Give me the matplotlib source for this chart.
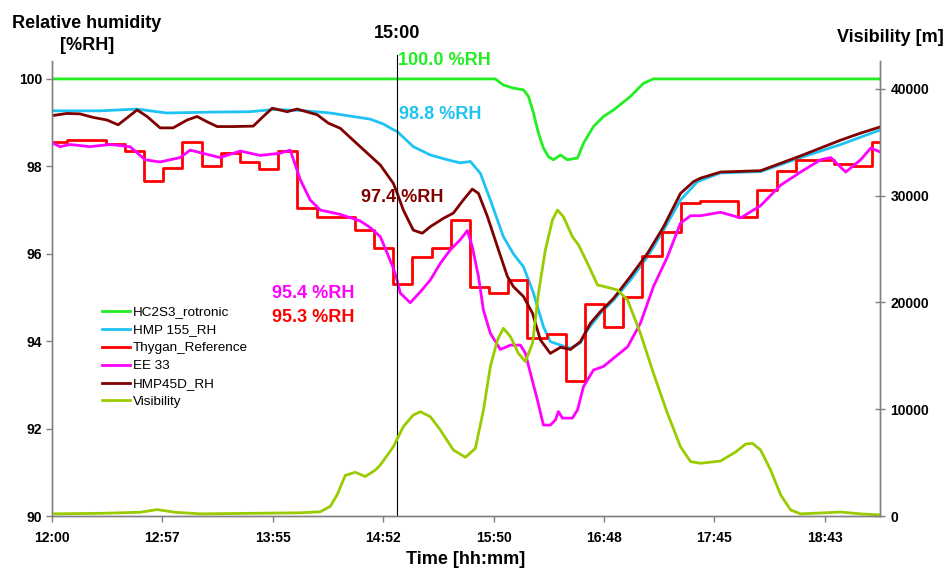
import numpy as np
import matplotlib
matplotlib.use('Agg')
import matplotlib.pyplot as plt

plt.rcParams['font.family'] = ['Liberation Sans', 'DejaVu Sans']

# Time axis: minutes after 12:00
t_end = 432
tick_pos = [0, 57.6, 115.2, 172.8, 230.4, 288, 345.6, 403.2]
tick_labels = ['12:00', '12:57', '13:55', '14:52', '15:50', '16:48', '17:45', '18:43']

# HC2S3_rotronic
t_hc2s3 = [0, 129.5, 231.3, 235.5, 240.7, 246, 248.6, 251.2, 253.8, 256.4, 259, 261.6,
           265.3, 268.9, 274.2, 277.3, 282.5, 287.7, 293, 301.8, 308.6, 313.8, 432]
rh_hc2s3 = [100.0, 100.0, 100.0, 99.86, 99.79, 99.75, 99.6, 99.22, 98.76, 98.42, 98.22, 98.15,
            98.26, 98.15, 98.19, 98.53, 98.91, 99.14, 99.29, 99.6, 99.9, 100.0, 100.0]

# HMP 155_RH
t_hmp155 = [0, 25, 44.4, 60, 82.5, 103.4, 115.4, 129.5, 145.2, 155.6, 166, 172.8, 178, 180,
            188.5, 197.4, 206.3, 213, 218.3, 223.5, 228.7, 235.5, 240.7, 246, 251.2, 256.4,
            260, 265.3, 270.5, 275.7, 279.4, 286.2, 293, 301.8, 310.7, 319.1, 327.9, 336.8,
            348.8, 369.7, 390.6, 411.5, 432]
rh_hmp155 = [99.27, 99.27, 99.31, 99.22, 99.24, 99.25, 99.3, 99.28, 99.22, 99.15, 99.08, 98.97,
             98.84, 98.8, 98.45, 98.26, 98.15, 98.08, 98.11, 97.84, 97.23, 96.39, 96.0, 95.7,
             95.1, 94.33, 93.99, 93.91, 93.84, 93.96, 94.26, 94.64, 94.94, 95.4, 95.93, 96.54,
             97.23, 97.65, 97.85, 97.88, 98.2, 98.5, 98.83]

# Thygan_Reference (10 min steps)
t_thygan = [0, 8, 18, 28, 38, 48, 58, 68, 78, 88, 98, 108, 118, 128, 138, 148, 158, 168,
            178, 188, 198, 208, 218, 228, 238, 248, 258, 268, 278, 288, 298, 308, 318, 328,
            338, 348, 358, 368, 378, 388, 398, 408, 418, 428, 432]
rh_thygan = [98.55, 98.6, 98.6, 98.5, 98.35, 97.67, 97.96, 98.55, 98.0, 98.3, 98.1, 97.95,
             98.35, 97.05, 96.85, 96.85, 96.55, 96.13, 95.3, 95.93, 96.13, 96.77, 95.23,
             95.11, 95.39, 94.07, 94.16, 93.09, 94.84, 94.33, 95.0, 95.95, 96.49, 97.17,
             97.2, 97.2, 96.85, 97.45, 97.9, 98.15, 98.15, 98.05, 98.0, 98.56, 98.56]

# EE 33
t_ee33 = [0, 4.2, 9.4, 19.8, 30.3, 40.7, 48.6, 56.4, 66.8, 72.1, 87.7, 98.2, 108.6, 119,
          124.3, 129.5, 134.7, 140, 150.4, 160.8, 166, 171.3, 174.9, 178.1, 180, 181.7,
          186.9, 192.2, 197.4, 202.6, 207.8, 213, 216.7, 219.3, 222.5, 225.1, 228.7, 233.9,
          239.2, 244.4, 247, 249.6, 253.3, 256.4, 260, 262.7, 264.2, 266.3, 271.5, 274.2,
          277.3, 282.5, 287.7, 293, 300.3, 307, 313.8, 321.1, 327.9, 333.2, 338.4, 348.8,
          359.3, 369.7, 380.2, 390.6, 401, 406.3, 414.1, 421.9, 427.2, 432]
rh_ee33 = [98.54, 98.45, 98.5, 98.45, 98.5, 98.45, 98.15, 98.1, 98.2, 98.37, 98.2, 98.35,
           98.25, 98.3, 98.37, 97.7, 97.23, 97.0, 96.9, 96.75, 96.6, 96.39, 96.01, 95.67,
           95.4, 95.1, 94.88, 95.13, 95.4, 95.78, 96.09, 96.32, 96.53, 96.16, 95.48, 94.71,
           94.18, 93.81, 93.91, 93.91, 93.72, 93.27, 92.65, 92.08, 92.08, 92.2, 92.39, 92.24,
           92.24, 92.43, 92.96, 93.34, 93.42, 93.61, 93.87, 94.41, 95.25, 95.93, 96.7, 96.87,
           96.87, 96.95, 96.82, 97.1, 97.57, 97.87, 98.15, 98.2, 97.87, 98.15, 98.42, 98.33]

# HMP45D_RH
t_hmp45 = [0, 7.8, 14.6, 21.4, 28.7, 34.5, 44.4, 49.6, 56.4, 63.2, 70.5, 75.7, 80.9, 86.2,
           94.5, 105, 110.2, 114.9, 122.7, 127.9, 138.4, 144.1, 150.4, 160.8, 171.3, 178.1,
           180, 183.3, 188.5, 193.2, 197.4, 204.2, 209.4, 214.6, 219.3, 222.5, 227.2, 232.4,
           237.6, 240.7, 246, 250.7, 254.8, 260, 265.3, 270.5, 275.7, 280.9, 286.2, 293,
           301.8, 310.7, 319.1, 327.9, 334.7, 338.4, 348.8, 369.7, 390.6, 411.5, 421.9, 432]
rh_hmp45 = [99.16, 99.21, 99.2, 99.12, 99.06, 98.95, 99.29, 99.14, 98.88, 98.88, 99.06, 99.14,
            99.02, 98.91, 98.91, 98.92, 99.14, 99.33, 99.25, 99.31, 99.18, 98.99, 98.87, 98.45,
            98.03, 97.61, 97.4, 97.0, 96.54, 96.47, 96.62, 96.81, 96.93, 97.23, 97.48, 97.38,
            96.85, 96.16, 95.48, 95.25, 95.02, 94.64, 94.03, 93.72, 93.86, 93.81, 93.99, 94.41,
            94.68, 94.98, 95.48, 96.01, 96.62, 97.38, 97.65, 97.73, 97.87, 97.9, 98.24, 98.6,
            98.76, 98.9]

# Visibility [m]
t_vis = [0, 25, 46, 54.8, 64.2, 77.3, 103.4, 129.5, 140, 145.2, 148.8, 153, 158.2, 163.4,
         168.7, 171.3, 178.1, 183.3, 188.5, 192.2, 197.4, 202.6, 209.4, 215.7, 220.9, 225.1,
         228.7, 232.4, 235.5, 239.2, 243.3, 247, 250.7, 253.8, 257.4, 261.1, 263.7, 266.8,
         271.5, 274.7, 279.4, 284.6, 289.8, 295, 300.3, 307, 313.8, 321.1, 327.9, 333.2,
         338.4, 348.8, 356.7, 361.9, 365.5, 369.7, 374.9, 380.2, 385.4, 390.6, 411.5, 421.9, 432]
vis = [200, 250, 350, 600, 350, 200, 250, 300, 400, 900, 2000, 3800, 4100, 3700,
       4300, 4780, 6490, 8370, 9460, 9770, 9300, 8060, 6180, 5500, 6340, 9930,
       13990, 16490, 17580, 16800, 15240, 14460, 16180, 20860, 24920, 27730, 28660, 28040,
       26170, 25390, 23670, 21640, 21420, 21170, 20230, 17110, 13370, 9620, 6490, 5090,
       4940, 5150, 6000, 6740, 6800, 6180, 4310, 1970, 560, 200, 370, 200, 100]

W, H = 946, 569
fig = plt.figure(figsize=(W / 100, H / 100), dpi=100)
ax = fig.add_axes([52 / W, 1 - 516 / H, (880 - 52) / W, (516 - 61) / H])
ax2 = ax.twinx()

lw = 2.0
l1, = ax.plot(t_hc2s3, rh_hc2s3, color='#22EE22', lw=lw, label='HC2S3_rotronic')
l2, = ax.plot(t_hmp155, rh_hmp155, color='#1FC3F3', lw=lw, label='HMP 155_RH')
l3, = ax.step(t_thygan, rh_thygan, where='post', color='#FF0000', lw=lw, label='Thygan_Reference')
l4, = ax.plot(t_ee33, rh_ee33, color='#FF00FF', lw=lw, label='EE 33')
l5, = ax.plot(t_hmp45, rh_hmp45, color='#800000', lw=lw, label='HMP45D_RH')
l6, = ax2.plot(t_vis, vis, color='#99CC00', lw=lw, label='Visibility')

# 15:00 marker line
ax.plot([180, 180], [90, 100.55], color='black', lw=0.8, clip_on=False)
ax.text(180, 101.05, '15:00', ha='center', va='center', fontsize=13, fontweight='bold')

lbl = dict(fontsize=13, fontweight='bold', va='center')
ax.text(180.7, 100.43, '100.0 %RH', color='#22EE22', ha='left', **lbl)
ax.text(181.2, 99.18, '98.8 %RH', color='#1FC3F3', ha='left', **lbl)
ax.text(204.2, 97.28, '97.4 %RH', color='#800000', ha='right', **lbl)
ax.text(114.9, 95.1, '95.4 %RH', color='#FF00FF', ha='left', **lbl)
ax.text(114.9, 94.55, '95.3 %RH', color='#FF0000', ha='left', **lbl)

ax.set_xlim(0, t_end)
ax.set_ylim(90, 100.41)
ax2.set_ylim(0, 42620)
ax.set_xticks(tick_pos)
ax.set_xticklabels(tick_labels)
ax.set_yticks([90, 92, 94, 96, 98, 100])
ax2.set_yticks([0, 10000, 20000, 30000, 40000])

for a in (ax, ax2):
    a.spines['top'].set_visible(False)
    for s in a.spines.values():
        s.set_color('#808080')
        s.set_linewidth(1.0)
ax.tick_params(axis='x', direction='out', length=4, width=1, color='#808080', pad=7, labelsize=10)
ax.tick_params(axis='y', direction='out', length=4, width=1, color='#808080', pad=3, labelsize=10)
ax2.tick_params(axis='y', direction='inout', length=7, width=1, color='#808080', pad=4, labelsize=10)
for t in ax.get_xticklabels() + ax.get_yticklabels() + ax2.get_yticklabels():
    t.set_fontweight('bold')

fig.text(87 / W, 1 - 23 / H, 'Relative humidity', ha='center', va='center', fontsize=13, fontweight='bold')
fig.text(87 / W, 1 - 46 / H, '[%RH]', ha='center', va='center', fontsize=13, fontweight='bold')
fig.text(890 / W, 1 - 38 / H, 'Visibility [m]', ha='center', va='center', fontsize=13, fontweight='bold')
fig.text(466 / W, 1 - 560 / H, 'Time [hh:mm]', ha='center', va='center', fontsize=13, fontweight='bold')

fig.legend(handles=[l1, l2, l3, l4, l5, l6], loc='upper left',
           bbox_to_anchor=(102 / W, 1 - 306 / H), frameon=False, fontsize=9.7,
           handlelength=2.1, handletextpad=0.2, labelspacing=0.41, borderpad=0, borderaxespad=0)

fig.savefig('out.png', dpi=100)
